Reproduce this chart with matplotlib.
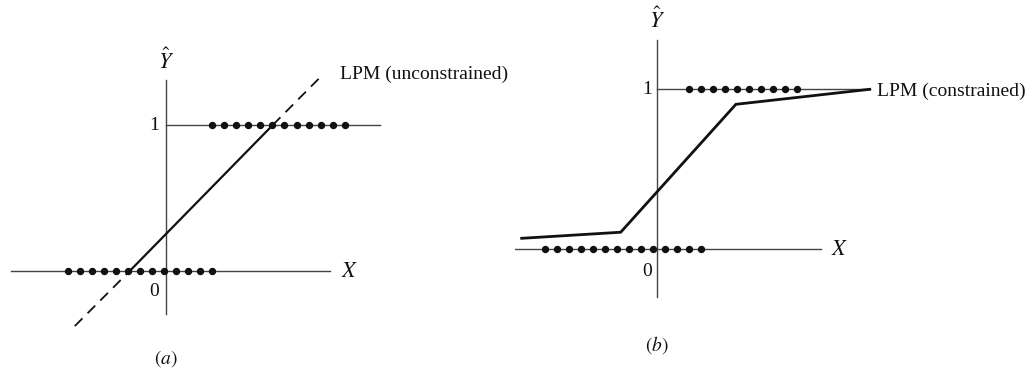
import matplotlib
matplotlib.use("Agg")
import matplotlib.pyplot as plt

plt.rcParams["font.family"] = ["Liberation Serif", "DejaVu Serif"]
plt.rcParams["mathtext.fontset"] = "stix"

# ---- panel (a): unconstrained linear probability model ----
a_dots_y0 = [-8.2, -7.2, -6.2, -5.2, -4.2, -3.2, -2.2, -1.2, -0.2, 0.8, 1.8, 2.8, 3.8]
a_dots_y1 = [3.8, 4.8, 5.8, 6.8, 7.8, 8.8, 9.8, 10.9, 11.9, 12.9, 13.9, 14.9]
a_line_x = [-7.6, -3.0, 8.9, 13.0]
a_line_y = [-0.38, 0.0, 1.0, 1.34]
a_label = "LPM (unconstrained)"

# ---- panel (b): constrained linear probability model ----
b_dots_y0 = [-9.4, -8.4, -7.4, -6.4, -5.4, -4.4, -3.4, -2.4, -1.4, -0.4, 0.6, 1.6, 2.6, 3.6]
b_dots_y1 = [2.6, 3.6, 4.6, 5.6, 6.6, 7.6, 8.6, 9.6, 10.6, 11.6]
b_line_x = [-11.3, -3.05, 6.55, 17.7]
b_line_y = [0.067, 0.105, 0.906, 1.0]
b_label = "LPM (constrained)"

W, H = 1031, 374
fig = plt.figure(figsize=(W / 100, H / 100), dpi=100)

ink = "#111111"
axis_col = "#444444"
fs = 14


def panel(rect, xlim, ylim, xaxis_span, yaxis_span, top_span,
          dots0, dots1, lx, ly, lw, dashed, tag, tag_y, num_dx, zero_dy, hat_dy):
    ax = fig.add_axes(rect)
    ax.set_xlim(*xlim)
    ax.set_ylim(*ylim)
    ax.axis("off")
    # axes and the y = 1 reference line
    ax.plot(xaxis_span, [0, 0], color=axis_col, lw=1.0, zorder=1)
    ax.plot([0, 0], yaxis_span, color=axis_col, lw=1.0, zorder=1)
    ax.plot(top_span, [1, 1], color=axis_col, lw=1.0, zorder=1)
    # observations
    ax.plot(dots0, [0] * len(dots0), "o", color=ink, ms=4.3, zorder=3)
    ax.plot(dots1, [1] * len(dots1), "o", color=ink, ms=4.3, zorder=3)
    # fitted line
    if dashed:
        ax.plot(lx[:2], ly[:2], color=ink, lw=1.3, dashes=(6, 4), zorder=2)
        ax.plot(lx[1:3], ly[1:3], color=ink, lw=1.6, zorder=2)
        ax.plot(lx[2:], ly[2:], color=ink, lw=1.3, dashes=(6, 4), zorder=2)
    else:
        ax.plot(lx, ly, color=ink, lw=lw, zorder=2, solid_joinstyle="miter")
    # text
    ax.text(num_dx, 1.0, "1", ha="center", va="center", fontsize=fs, color=ink)
    ax.text(num_dx, -zero_dy, "0", ha="center", va="center", fontsize=fs, color=ink)
    ax.text(xaxis_span[1] + 0.9, -0.01, r"$X$", ha="left", va="center",
            fontsize=fs + 2, color=ink)
    ax.text(0.0, yaxis_span[1] + hat_dy, r"$\hat{Y}$", ha="center", va="baseline",
            fontsize=fs + 2, color=ink)
    ax.text(0.0, tag_y, tag, ha="center", va="center", fontsize=fs, color=ink)
    return ax


# panel (a): 12 px per x unit, 145.7 px per y unit
ax_a = panel([0, 0, 520 / W, 1],
             (-166 / 12, (520 - 166) / 12), ((270.7 - 374) / 145.7, 270.7 / 145.7),
             [-12.9, 13.7], [-0.30, 1.31], [0, 17.8],
             a_dots_y0, a_dots_y1, a_line_x, a_line_y, 1.6, True,
             r"$(a)$", -0.60, -1.0, 0.144, 0.075)
ax_a.text(14.5, 1.35, a_label, ha="left", va="center", fontsize=fs, color=ink)

# panel (b): 12 px per x unit, 159.7 px per y unit
ax_b = panel([515 / W, 0, 516 / W, 1],
             ((515 - 657.3) / 12, (1031 - 657.3) / 12), ((249 - 374) / 159.7, 249 / 159.7),
             [-12.5, 13.6], [-0.30, 1.31], [0, 17.7],
             b_dots_y0, b_dots_y1, b_line_x, b_line_y, 2.0, False,
             r"$(b)$", -0.60, -0.85, 0.142, 0.075)
ax_b.text(18.3, 0.988, b_label, ha="left", va="center", fontsize=fs, color=ink)

fig.savefig("out.png", dpi=100, facecolor="white")
